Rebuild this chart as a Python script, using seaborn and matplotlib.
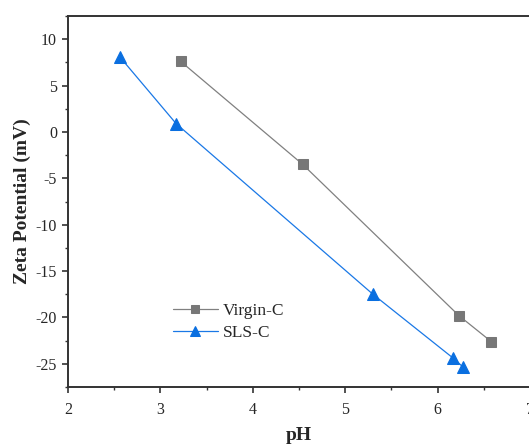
import matplotlib
matplotlib.use("Agg")
import matplotlib.pyplot as plt
import seaborn as sns
import pandas as pd
from matplotlib.ticker import MultipleLocator

# Zeta potential versus pH for the two carbons
virgin_ph = [3.22, 4.54, 6.23, 6.58]
virgin_zeta = [7.6, -3.5, -19.8, -22.6]
sls_ph = [2.56, 3.17, 5.30, 6.17, 6.27]
sls_zeta = [8.1, 0.9, -17.5, -24.4, -25.3]

sns.set_style("ticks")
plt.rcParams["font.family"] = ["Liberation Serif", "DejaVu Serif"]
plt.rcParams["axes.unicode_minus"] = False

fig = plt.figure(figsize=(5.29, 4.45), dpi=100)
ax = fig.add_axes([68 / 529, 58 / 445, 462 / 529, 371 / 445])

df_v = pd.DataFrame({"pH": virgin_ph, "zeta": virgin_zeta})
df_s = pd.DataFrame({"pH": sls_ph, "zeta": sls_zeta})

sns.lineplot(data=df_v, x="pH", y="zeta", ax=ax, color="#808080", lw=0.9,
             marker="s", markersize=6.5, markerfacecolor="#777777",
             markeredgecolor="#777777", label="Virgin-C", sort=False)
sns.lineplot(data=df_s, x="pH", y="zeta", ax=ax, color="#1a78e6", lw=0.9,
             marker="^", markersize=8.5, markerfacecolor="#0a6fe0",
             markeredgecolor="#0a6fe0", label="SLS-C", sort=False)

ax.set_xlim(2, 7)
ax.set_ylim(-27.5, 12.5)
ax.xaxis.set_major_locator(MultipleLocator(1))
ax.xaxis.set_minor_locator(MultipleLocator(0.5))
ax.yaxis.set_major_locator(MultipleLocator(5))
ax.yaxis.set_minor_locator(MultipleLocator(2.5))
ax.tick_params(which="major", direction="out", length=4, width=1.2,
               color="#333333", labelsize=11.5, pad=4)
ax.tick_params(axis="x", which="major", pad=7)
ax.tick_params(which="minor", direction="out", length=2.5, width=1.0,
               color="#333333")

for side in ("left", "bottom", "top", "right"):
    ax.spines[side].set_linewidth(1.4)
    ax.spines[side].set_color("#333333")

ax.set_xlabel("pH", fontsize=14, fontweight="bold", labelpad=6)
ax.set_ylabel("Zeta Potential (mV)", fontsize=14, fontweight="bold", labelpad=3)

leg = ax.legend(loc="lower left", bbox_to_anchor=(0.212, 0.105), frameon=False,
                fontsize=12.5, handlelength=2.6, handletextpad=0.3,
                labelspacing=0.35, borderaxespad=0, markerscale=0.8)

fig.savefig("out.png", dpi=100)
